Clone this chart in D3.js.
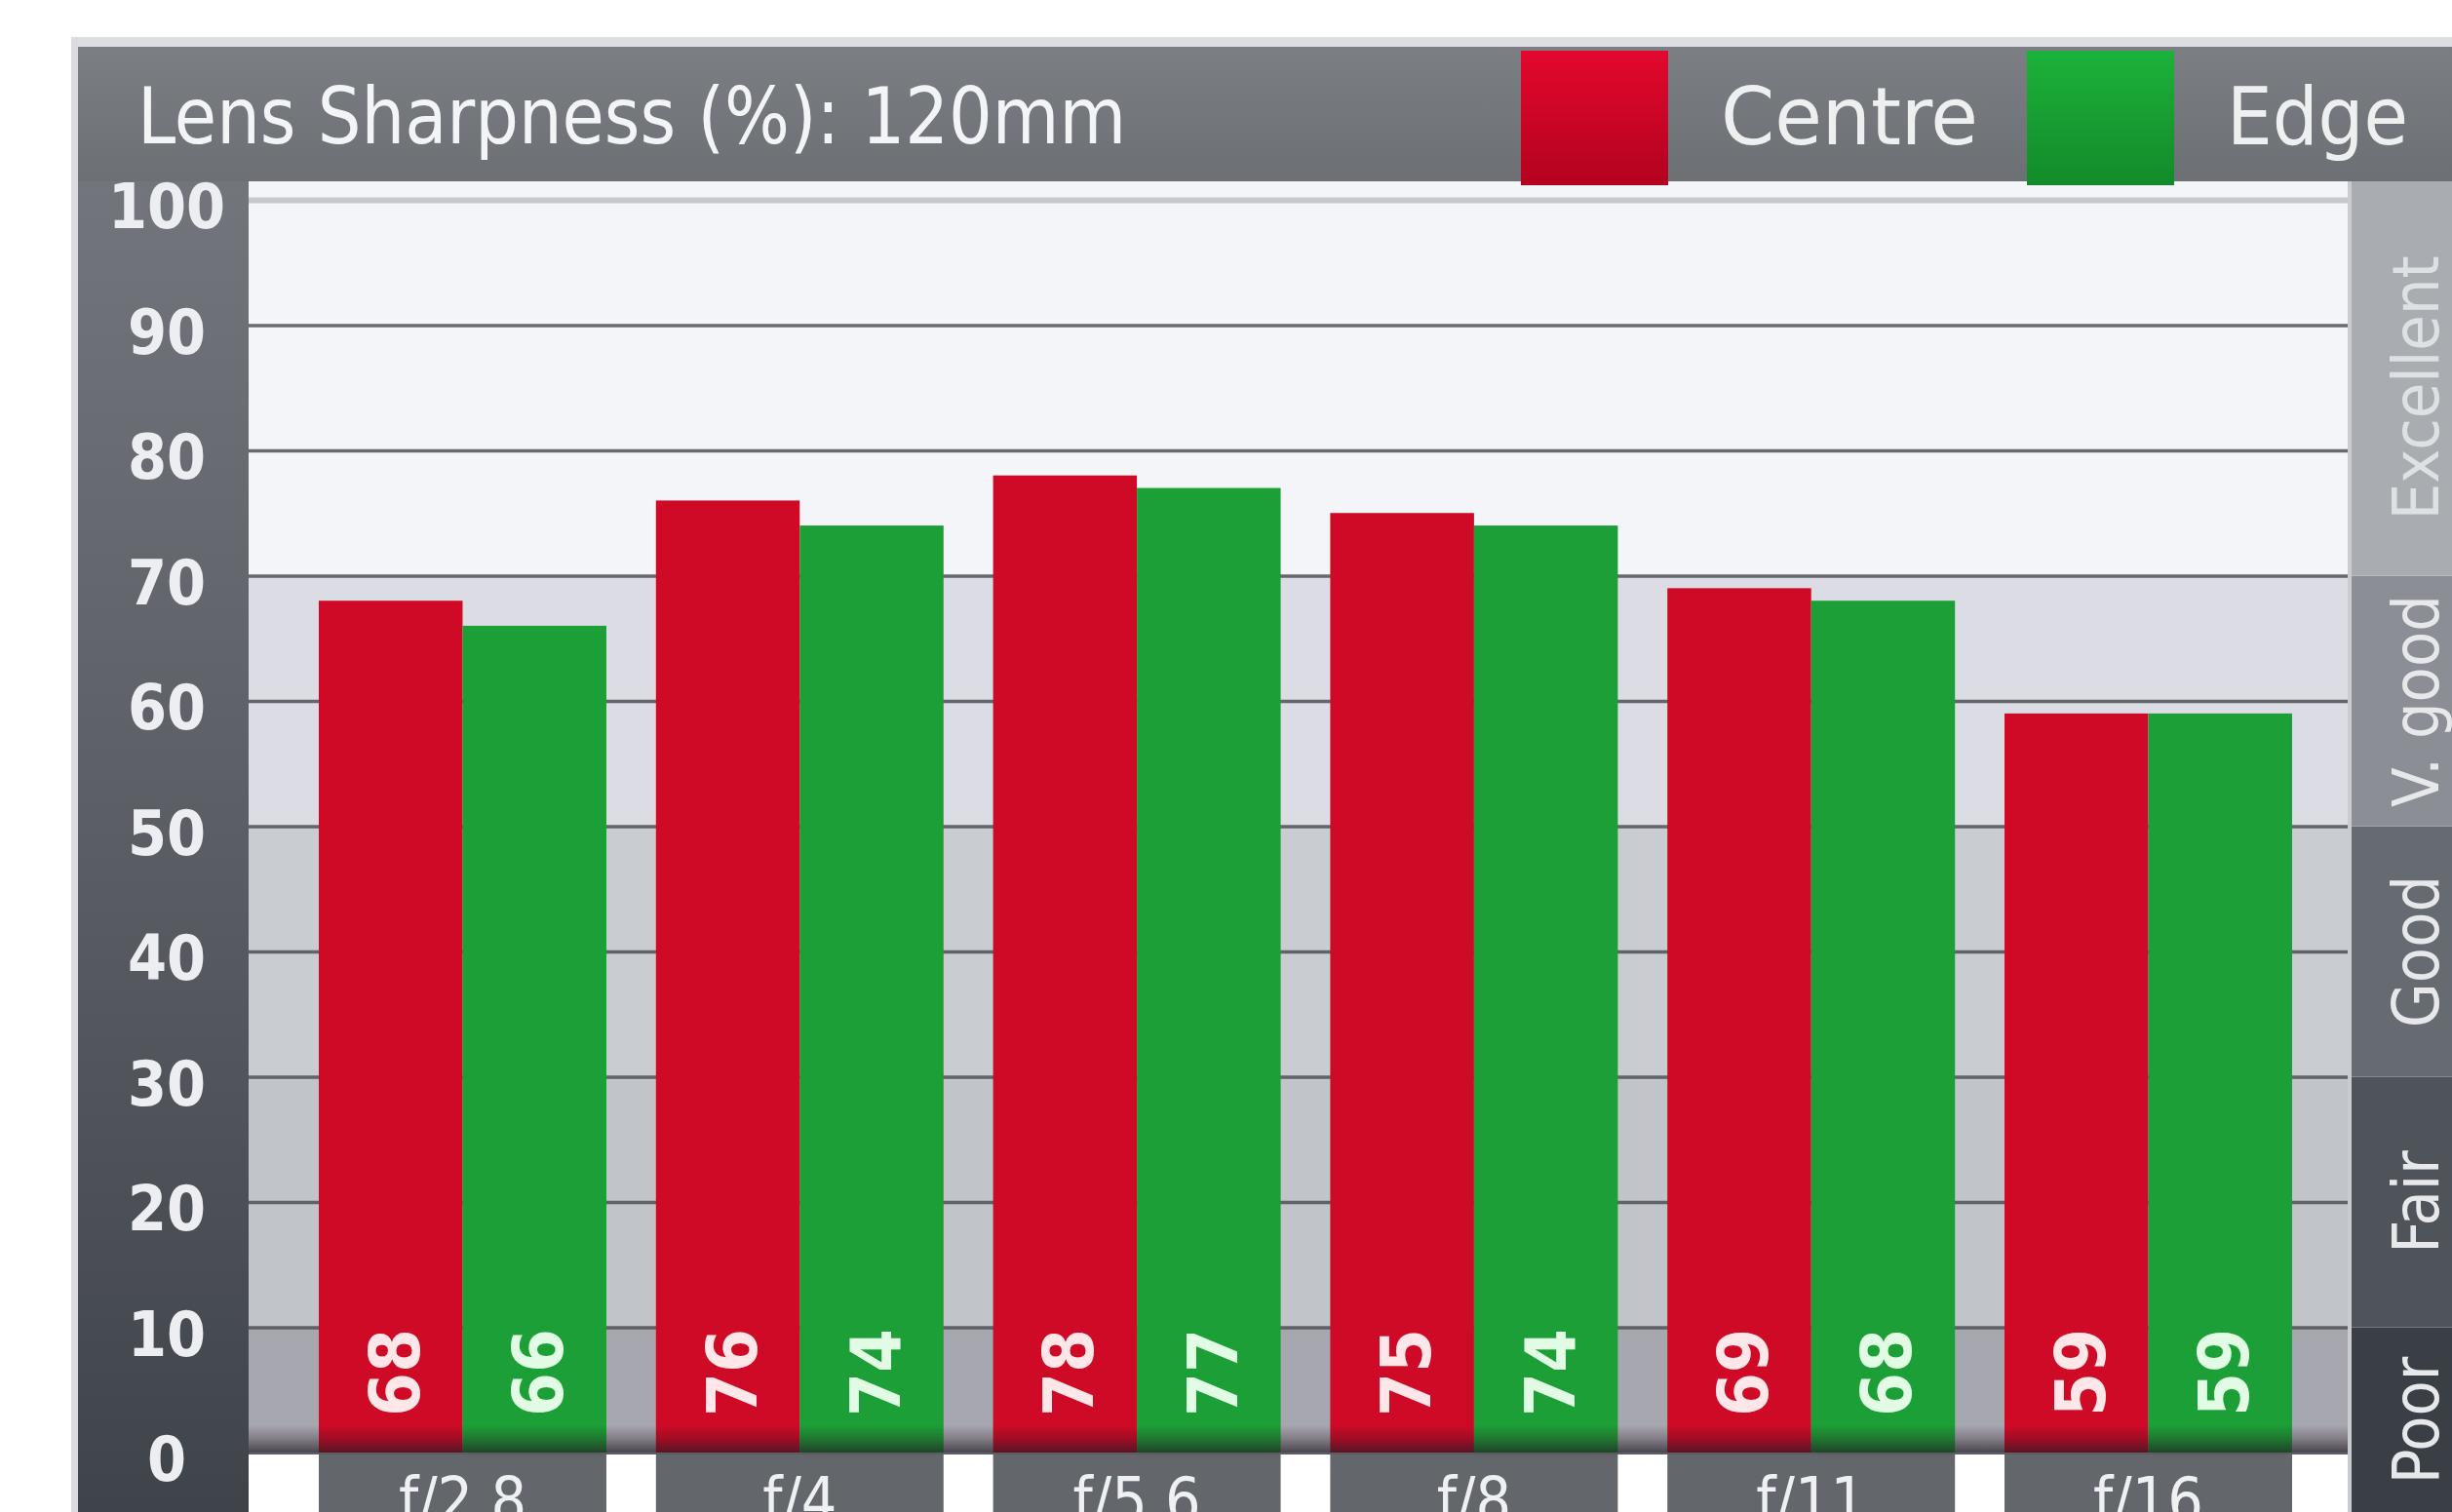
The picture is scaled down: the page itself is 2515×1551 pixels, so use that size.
<!DOCTYPE html>
<html>
<head>
<meta charset="utf-8">
<script src="https://cdn.jsdelivr.net/npm/d3@7"></script>
<style>
  html, body { margin: 0; padding: 0; background: #ffffff; }
  svg { display: block; }
  text { font-family: "DejaVu Sans Condensed", "DejaVu Sans", "Liberation Sans Narrow", sans-serif; font-stretch: condensed; }
</style>
</head>
<body>
<svg id="chart" width="2515" height="1551"></svg>
<script>
// Sharpness readings per aperture (percent)
const apertures = ["f/2.8", "f/4", "f/5.6", "f/8", "f/11", "f/16"];
const seriesNames = ["Centre", "Edge"];
const centreValues = [68, 76, 78, 75, 69, 59];
const edgeValues = [66, 74, 77, 74, 68, 59];
const yTickValues = [0, 10, 20, 30, 40, 50, 60, 70, 80, 90, 100];
const ratingLabels = ["Poor", "Fair", "Good", "V. good", "Excellent"];
const ratingBreaks = [0, 10, 30, 50, 70, 100];
const titleText = "Lens Sharpness (%): 120mm";

// Styling
const seriesColors = ["#cf0a26", "#1c9f36"];
const labelTints = ["#ffe6e8", "#e2fbe4"];
const plotBandColors = ["#a6a7af", "#c1c4c8", "#c9ccd0", "#dcdde4", "#f4f5f8"];
const stripBandColors = ["#3a3f46", "#4f545b", "#666b71", "#8b8f95", "#a9adb1"];

const W = 2515, H = 1551;
const frameLeft = 80, headerTop = 48, headerBottom = 186;
const plotLeft = 255, plotRight = 2408;

const svg = d3.select("#chart");
const defs = svg.append("defs");

function vGrad(id, stops) {
  const g = defs.append("linearGradient").attr("id", id)
    .attr("x1", 0).attr("y1", 0).attr("x2", 0).attr("y2", 1);
  stops.forEach(([o, c]) => g.append("stop").attr("offset", o).attr("stop-color", c));
}
vGrad("headerGrad", [[0, "#7b7f84"], [1, "#6c7075"]]);
vGrad("panelGrad", [[0, "#72767c"], [0.5, "#5a5e64"], [1, "#3f434a"]]);
vGrad("baseGrad", [[0, "rgba(40,20,30,0)"], [0.45, "rgba(40,20,30,0.28)"], [1, "rgba(30,30,38,0.75)"]]);
vGrad("redSwatch", [[0, "#e3082d"], [1, "#b3021f"]]);
vGrad("greenSwatch", [[0, "#1cb23a"], [1, "#138a2a"]]);

const y = d3.scaleLinear().domain([0, 100]).range([1490, 205]);
const x0 = d3.scaleBand().domain(apertures).range([327, 2351]).paddingInner(0.147).paddingOuter(0);
const x1 = d3.scaleBand().domain(seriesNames).range([0, x0.bandwidth()]);
const color = d3.scaleOrdinal().domain(seriesNames).range(seriesColors);
const tint = d3.scaleOrdinal().domain(seriesNames).range(labelTints);

// Light outer edges of the panel
svg.append("rect").attr("x", 73).attr("y", 38).attr("width", W - 73).attr("height", 10).attr("fill", "#dcdee1");
svg.append("rect").attr("x", 73).attr("y", 38).attr("width", 7).attr("height", H - 38).attr("fill", "#dadbe1");

// Header bar and left axis panel
svg.append("rect").attr("x", frameLeft).attr("y", headerTop).attr("width", W - frameLeft).attr("height", headerBottom - headerTop).attr("fill", "url(#headerGrad)");
svg.append("rect").attr("x", frameLeft).attr("y", headerBottom).attr("width", plotLeft - frameLeft).attr("height", H - headerBottom).attr("fill", "url(#panelGrad)");

// Rating bands behind the bars and along the right-hand strip
const bands = ratingLabels.map((name, i) => ({
  name, lo: ratingBreaks[i], hi: ratingBreaks[i + 1], i
}));
const bandTop = d => d.hi === 100 ? headerBottom : y(d.hi);
const bandBottom = d => y(d.lo);

svg.append("g").selectAll("rect").data(bands).join("rect")
  .attr("x", plotLeft).attr("width", plotRight - plotLeft)
  .attr("y", bandTop).attr("height", d => bandBottom(d) - bandTop(d))
  .attr("fill", d => plotBandColors[d.i]);

svg.append("g").selectAll("rect").data(bands).join("rect")
  .attr("x", plotRight).attr("width", W - plotRight)
  .attr("y", bandTop)
  .attr("height", d => (d.lo === 0 ? H : y(d.lo)) - bandTop(d))
  .attr("fill", d => stripBandColors[d.i]);
svg.append("rect").attr("x", plotRight).attr("y", headerBottom).attr("width", 4).attr("height", H - headerBottom).attr("fill", "#c9cbd0");

// White area under the plot
svg.append("rect").attr("x", plotLeft).attr("y", y(0)).attr("width", plotRight - plotLeft).attr("height", H - y(0)).attr("fill", "#ffffff");

// Gridlines
const gridAxis = d3.axisLeft(y).tickValues(yTickValues.filter(v => v > 0)).tickSize(-(plotRight - plotLeft)).tickFormat("");
const grid = svg.append("g").attr("transform", `translate(${plotLeft},0)`).call(gridAxis);
grid.select(".domain").remove();
grid.selectAll(".tick line")
  .attr("stroke", d => d === 100 ? "#c6c8cb" : "#4e5156")
  .attr("stroke-width", d => d === 100 ? 6 : 3.5)
  .attr("stroke-opacity", d => d === 100 ? 1 : 0.85);

// Bars
const groups = svg.append("g").selectAll("g").data(apertures).join("g")
  .attr("transform", d => `translate(${x0(d)},0)`);

const barData = (a, i) => [
  { key: "Centre", value: centreValues[i] },
  { key: "Edge", value: edgeValues[i] }
];

groups.selectAll("rect").data(barData).join("rect")
  .attr("x", d => x1(d.key)).attr("width", x1.bandwidth())
  .attr("y", d => y(d.value)).attr("height", d => y(0) - y(d.value))
  .attr("fill", d => color(d.key));

// Darkened base line along the zero axis
svg.append("rect").attr("x", plotLeft).attr("width", plotRight - plotLeft)
  .attr("y", y(0) - 28).attr("height", 30).attr("fill", "url(#baseGrad)");

// Value labels inside the foot of each bar
groups.selectAll("text.value").data(barData).join("text")
  .attr("class", "value")
  .attr("transform", d => `translate(${x1(d.key) + x1.bandwidth() / 2 + 4},${y(0) - 82}) rotate(-90)`)
  .attr("text-anchor", "middle").attr("dominant-baseline", "central")
  .attr("font-size", 72).attr("font-weight", "bold").attr("fill", d => tint(d.key))
  .text(d => d.value);

// Aperture labels in dark tabs below each group
const tabs = svg.append("g").selectAll("g").data(apertures).join("g")
  .attr("transform", d => `translate(${x0(d)},0)`);
tabs.append("rect").attr("x", 0).attr("width", x0.bandwidth())
  .attr("y", y(0) + 2).attr("height", H - y(0)).attr("fill", "#63676c");
tabs.append("text").attr("x", x0.bandwidth() / 2).attr("y", 1561)
  .attr("text-anchor", "middle").attr("font-size", 64).attr("fill", "#eef0f2")
  .text(d => d);

// Left value axis
const yAxis = d3.axisLeft(y).tickValues(yTickValues).tickSize(0).tickPadding(0);
const ya = svg.append("g").attr("transform", "translate(171,0)").call(yAxis);
ya.select(".domain").remove();
ya.selectAll("text")
  .attr("x", 0).attr("dy", "0.45em").attr("text-anchor", "middle")
  .attr("font-size", 64).attr("font-weight", "bold").attr("fill", "#eceef1")
  .style("font-family", "\"DejaVu Sans Condensed\", \"DejaVu Sans\", sans-serif");

// Rating labels on the right strip
svg.append("g").selectAll("text").data(bands).join("text")
  .attr("transform", d => {
    const cy = d.lo === 0 ? 1457 : y((d.lo + d.hi) / 2);
    return `translate(2478,${cy}) rotate(-90)`;
  })
  .attr("text-anchor", "middle").attr("dominant-baseline", "central")
  .attr("font-size", 66).attr("fill", d => d.hi === 100 ? "#dde1e4" : "#e6e8ea")
  .text(d => d.name);

// Title
svg.append("text").attr("x", 141).attr("y", 147)
  .attr("font-size", 80).attr("fill", "#f3f4f5")
  .attr("textLength", 1014).attr("lengthAdjust", "spacingAndGlyphs")
  .text(titleText);

// Legend
const legendX = d3.scalePoint().domain(seriesNames).range([1560, 2079]);
const legendTextLen = { Centre: 264, Edge: 186 };
const legend = svg.append("g").selectAll("g").data(seriesNames).join("g")
  .attr("transform", d => `translate(${legendX(d)},0)`);
legend.append("rect").attr("x", 0).attr("y", 52).attr("width", 151).attr("height", 138)
  .attr("fill", d => d === "Centre" ? "url(#redSwatch)" : "url(#greenSwatch)");
legend.append("text").attr("x", 205).attr("y", 148)
  .attr("font-size", 82).attr("fill", "#eef0f0")
  .attr("textLength", d => legendTextLen[d]).attr("lengthAdjust", "spacingAndGlyphs")
  .text(d => d);
</script>
</body>
</html>
